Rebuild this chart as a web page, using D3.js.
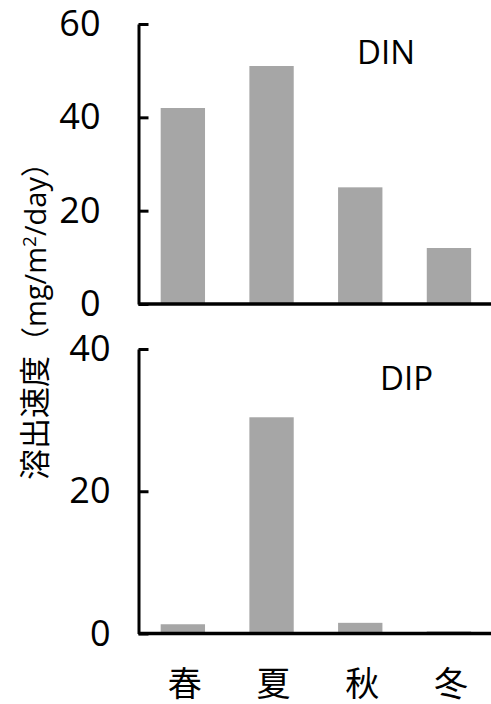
<!DOCTYPE html>
<html lang="ja">
<head>
    <meta charset="UTF-8">
    <title>溶出速度</title>
    <script src="https://d3js.org/d3.v7.min.js"></script>
    <style>
        body { margin: 0; background: #fff; }
        svg { font-family: "Open Sans", "Noto Sans CJK JP", sans-serif; }
        .axis path, .axis line { stroke: #000; stroke-width: 3; }
    </style>
</head>
<body>
<div id="chart"></div>
<script>
    // data
    const seasons = ["春", "夏", "秋", "冬"];
    const dinValues = [42, 51, 25, 12];
    const dipValues = [1.3, 30.4, 1.5, 0.3];
    const dinTicks = [0, 20, 40, 60];
    const dipTicks = [0, 20, 40];

    const W = 491, H = 704;
    const axisX = 138.5;
    const barColor = "#a6a6a6";

    const svg = d3.select("#chart").append("svg")
        .attr("width", W)
        .attr("height", H);

    const x = d3.scaleBand()
        .domain(seasons)
        .range([axisX, axisX + 4 * 88.7])
        .paddingInner(0.5)
        .paddingOuter(0.25);

    function panel(values, ticks, yRange, labelPad, name, namePos) {
        const y = d3.scaleLinear()
            .domain([0, d3.max(ticks)])
            .range(yRange);

        const g = svg.append("g");

        g.selectAll(".bar")
         .data(values)
         .join("rect")
         .attr("class", "bar")
         .attr("x", (d, i) => x(seasons[i]))
         .attr("width", x.bandwidth())
         .attr("y", d => y(d))
         .attr("height", d => y(0) - y(d))
         .attr("fill", barColor);

        // y axis, ticks pointing inwards
        const ya = g.append("g")
         .attr("class", "axis")
         .attr("transform", `translate(${axisX},0)`)
         .call(d3.axisLeft(y).tickValues(ticks).tickSizeInner(-10).tickSizeOuter(0).tickPadding(labelPad));
        ya.selectAll("text")
          .attr("fill", "#000")
          .style("font-family", "'Open Sans'")
          .style("font-size", "36px");

        // x baseline
        g.append("line")
         .attr("x1", axisX)
         .attr("x2", W)
         .attr("y1", y(0))
         .attr("y2", y(0))
         .attr("stroke", "#000")
         .attr("stroke-width", 3.5);

        g.append("text")
         .attr("x", namePos[0])
         .attr("y", namePos[1])
         .style("font-size", "33px")
         .text(name);

        return y;
    }

    panel(dinValues, dinTicks, [304, 24], 38, "DIN", [357, 64]);
    panel(dipValues, dipTicks, [633.5, 349], 28, "DIP", [380, 390]);

    // season labels
    svg.append("g")
       .selectAll("text")
       .data(seasons)
       .join("text")
       .attr("x", d => x(d) + x.bandwidth() / 2 + 2)
       .attr("y", 696)
       .attr("text-anchor", "middle")
       .style("font-size", "34px")
       .text(d => d);

    // y axis title
    const title = svg.append("text")
       .attr("transform", "translate(46,314) rotate(-90)")
       .attr("text-anchor", "middle")
       .style("font-size", "29px");
    title.append("tspan").style("font-size", "31px").text("溶出速度");
    title.append("tspan").text("（mg/m");
    title.append("tspan").attr("dy", -10).style("font-size", "19px").text("2");
    title.append("tspan").attr("dy", 10).text("/day）");
</script>
</body>
</html>
